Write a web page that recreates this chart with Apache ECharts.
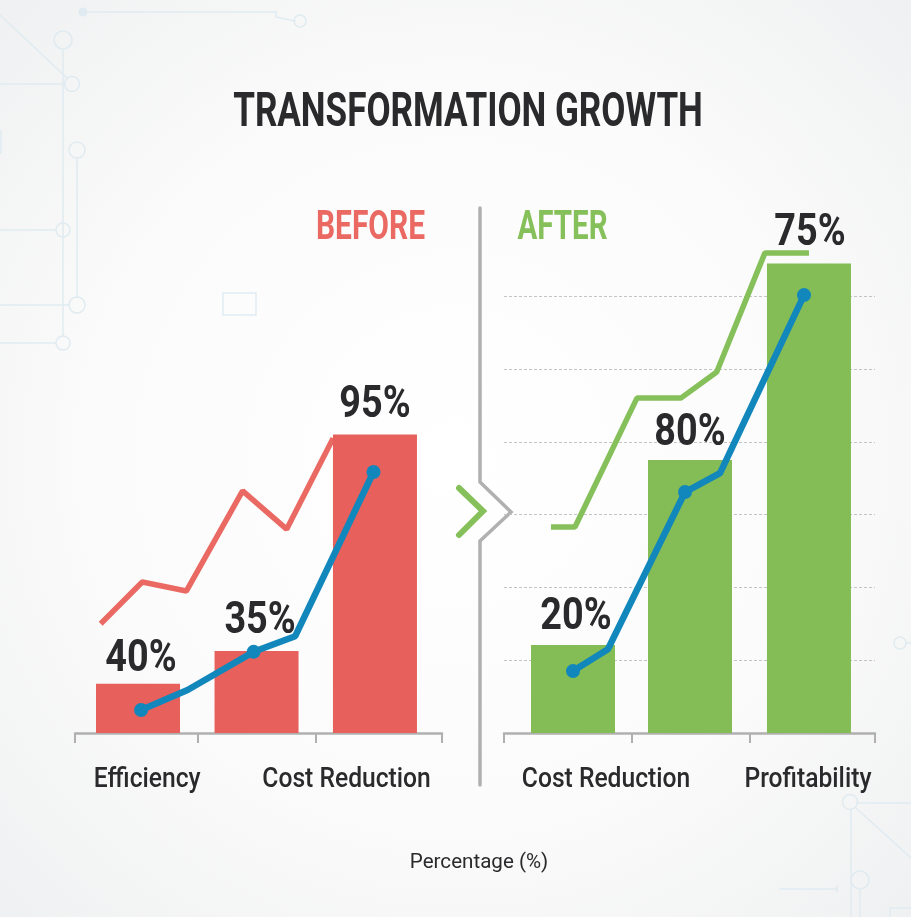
<!DOCTYPE html>
<html>
<head>
<meta charset="utf-8">
<style>
  html, body { margin: 0; padding: 0; background: #fff; }
  #chart { width: 911px; height: 917px; }
</style>
<script src="https://cdn.jsdelivr.net/npm/echarts@6/dist/echarts.min.js"></script>
</head>
<body>
<div id="chart"></div>
<script>
// x positions are in axis units: 0..3 across each panel
const beforeTicks = [0, 1, 1.97, 3];
const afterTicks = [0, 1.035, 1.99, 3];
const beforeNames = ['Efficiency', 'Cost Reduction'];
const beforeNamePos = [0.59, 2.22];
const afterNames = ['Cost Reduction', 'Profitability'];
const afterNamePos = [0.825, 2.458];

const beforeBarX = [0.515, 1.484, 2.452];
const beforeBars = [13.5, 22.5, 82];
const beforeLabels = ['40%', '35%', '95%'];
const afterBarX = [0.558, 1.504, 2.466];
const afterBars = [24.2, 75, 129];
const afterLabels = ['20%', '80%', '75%'];

const beforeTrendX = [0.21, 0.55, 0.91, 1.37, 1.73, 2.11];
const beforeTrend = [30, 41.5, 39, 66.5, 56, 81];
const beforeBlueX = [0.54, 0.92, 1.46, 1.8, 2.44];
const beforeBlue = [6.3, 11.8, 22.3, 26.6, 71.7];

const afterTrendX = [0.38, 0.574, 1.075, 1.43, 1.72, 2.11, 2.466];
const afterTrend = [56.6, 56.6, 92, 92, 99.2, 131.9, 131.9];
const afterBlueX = [0.558, 0.84, 1.464, 1.747, 2.426];
const afterBlue = [17, 23, 66.2, 71.4, 120.3];
const blueDots = [0, 2, 4];

const RED = '#e8605c';
const RED_LINE = '#ea6a63';
const GREEN = '#84bc56';
const GREEN_LINE = '#86c05a';
const BLUE = '#1287bb';
const FONT = 'Roboto, sans-serif';
const DARK = '#2a2a2c';
const CIRCUIT = '#e0ebf1';

const zip = (xs, ys) => xs.map((x, i) => [x, ys[i]]);

// no condensed font is installed, so text gets squeezed horizontally
function squeezedText(text, x, y, scaleX, fontSize, fontWeight, fill) {
  return {
    type: 'text', x, y, scaleX, silent: true, z: 10,
    style: {
      text, fontFamily: FONT, fontSize, fontWeight, fill,
      align: 'center', verticalAlign: 'middle',
    },
  };
}

function xAxis(gridIndex, ticks) {
  return {
    type: 'value', gridIndex, min: 0, max: 3, interval: 1,
    splitLine: { show: false },
    axisLine: { show: true, onZero: false, lineStyle: { color: '#b0b0b0', width: 2.5 } },
    axisTick: { show: true, customValues: ticks, length: 10, lineStyle: { color: '#b0b0b0', width: 2 } },
    axisLabel: { show: false },
  };
}

function yAxis(gridIndex, showLines) {
  return {
    type: 'value', gridIndex, min: 0, max: 140, interval: 20,
    axisLine: { show: false }, axisTick: { show: false }, axisLabel: { show: false },
    splitLine: {
      show: showLines, showMinLine: false, showMaxLine: false,
      lineStyle: { color: '#c4c4c4', type: [3, 2], width: 1 },
    },
  };
}

function barSeries(i, xs, ys, color) {
  return {
    type: 'bar', xAxisIndex: i, yAxisIndex: i, z: 3,
    data: zip(xs, ys), barWidth: 84,
    itemStyle: { color },
  };
}

function lineSeries(i, xs, ys, color, width, z, dots) {
  return {
    type: 'line', xAxisIndex: i, yAxisIndex: i, z,
    data: zip(xs, ys), clip: false,
    lineStyle: { color, width },
    itemStyle: { color },
    symbol: 'circle', showAllSymbol: true,
    symbolSize: (v, p) => (dots.includes(p.dataIndex) ? 14 : 0),
  };
}

// value labels above the bars, nudged by [dx, lift] per bar
function valueLabels(i, xs, ys, labels, nudges) {
  return {
    type: 'custom', xAxisIndex: i, yAxisIndex: i, z: 6,
    data: zip(xs, ys),
    renderItem: (params, api) => {
      const p = api.coord([api.value(0), api.value(1)]);
      const [dx, lift] = nudges[params.dataIndex];
      return squeezedText(labels[params.dataIndex], p[0] + dx, p[1] - lift, 0.84, 45, 'bold', DARK);
    },
  };
}

// category names under the axis, they do not sit under the bars
function axisNames(i, pos, names) {
  return {
    type: 'custom', xAxisIndex: i, yAxisIndex: i, z: 6,
    data: pos.map((x) => [x, 0]),
    renderItem: (params, api) => {
      const p = api.coord([api.value(0), 0]);
      return squeezedText(names[params.dataIndex], p[0], p[1] + 47, 0.88, 28, 500, DARK);
    },
  };
}

const line = (points, stroke, lineWidth) => ({
  type: 'polyline', silent: true, z: -1,
  shape: { points },
  style: { stroke, lineWidth, fill: null, lineCap: 'round', lineJoin: 'miter' },
});
const ring = (cx, cy, r) => ({
  type: 'circle', silent: true, z: -1,
  shape: { cx, cy, r },
  style: { stroke: CIRCUIT, lineWidth: 1.5, fill: null },
});
const box = (x, y, width, height) => ({
  type: 'rect', silent: true, z: -1,
  shape: { x, y, width, height },
  style: { stroke: CIRCUIT, lineWidth: 1.5, fill: null },
});

const decor = [
  line([[0, 15], [67, 78]], CIRCUIT, 1.5),
  line([[63, 50], [63, 336]], CIRCUIT, 1.5),
  line([[0, 84], [65, 84]], CIRCUIT, 1.5),
  line([[77, 158], [77, 297]], CIRCUIT, 1.5),
  line([[0, 230], [56, 230]], CIRCUIT, 1.5),
  line([[0, 305], [69, 305]], CIRCUIT, 1.5),
  line([[0, 343], [56, 343]], CIRCUIT, 1.5),
  line([[88, 12], [276, 12], [276, 17], [295, 21]], CIRCUIT, 1.5),
  ring(63, 40, 9), ring(72, 84, 7.5), ring(77, 150, 8), ring(63, 230, 7),
  ring(77, 305, 8), ring(63, 343, 7), ring(300, 21, 6),
  { type: 'circle', silent: true, z: -1, shape: { cx: 83, cy: 12, r: 4.5 }, style: { fill: CIRCUIT } },
  box(223, 293, 33, 22), box(-3, 131, 4, 22),
  ring(900, 643, 6), line([[906, 643], [911, 643]], CIRCUIT, 1.5),
  ring(850, 802, 7.5), line([[857, 803], [911, 803]], CIRCUIT, 1.5),
  line([[851, 810], [851, 917]], CIRCUIT, 1.5),
  line([[856, 808], [911, 858]], CIRCUIT, 1.5),
  ring(860, 880, 9), line([[860, 889], [860, 917]], CIRCUIT, 1.5),
  line([[780, 889], [837, 889]], CIRCUIT, 1.5), line([[837, 886], [837, 892]], CIRCUIT, 1.5),
  box(890, 908, 30, 20),
  // divider with the chevron
  line([[480, 208], [480, 482], [511, 512], [480, 541], [480, 785]], '#b0b0b0', 3.5),
  line([[459, 488], [483, 511], [459, 535]], GREEN_LINE, 6),
  // headings
  squeezedText('TRANSFORMATION GROWTH', 468, 114, 0.73, 48, 'bold', DARK),
  squeezedText('BEFORE', 370.5, 229, 0.73, 41, 'bold', RED_LINE),
  squeezedText('AFTER', 562.5, 229, 0.72, 41, 'bold', GREEN_LINE),
  squeezedText('Percentage (%)', 479, 863, 0.98, 21, 'normal', DARK),
];

const chart = echarts.init(document.getElementById('chart'));
chart.setOption({
  animation: false,
  backgroundColor: {
    type: 'radial', x: 0.5, y: 0.5, r: 0.72,
    colorStops: [
      { offset: 0, color: '#ffffff' },
      { offset: 0.55, color: '#fbfbfb' },
      { offset: 1, color: '#eff0f1' },
    ],
  },
  grid: [
    { left: 75, width: 367, top: 223.4, height: 509.6 },
    { left: 504, width: 371, top: 223.4, height: 509.6 },
  ],
  xAxis: [xAxis(0, beforeTicks), xAxis(1, afterTicks)],
  yAxis: [yAxis(0, false), yAxis(1, true)],
  series: [
    lineSeries(0, beforeTrendX, beforeTrend, RED_LINE, 5.5, 2, []),
    barSeries(0, beforeBarX, beforeBars, RED),
    lineSeries(0, beforeBlueX, beforeBlue, BLUE, 6.5, 4, blueDots),
    valueLabels(0, beforeBarX, beforeBars, beforeLabels, [[3, 24], [3.5, 29], [0, 29]]),
    axisNames(0, beforeNamePos, beforeNames),
    lineSeries(1, afterTrendX, afterTrend, GREEN_LINE, 5.5, 2, []),
    barSeries(1, afterBarX, afterBars, GREEN),
    lineSeries(1, afterBlueX, afterBlue, BLUE, 6.5, 4, blueDots),
    valueLabels(1, afterBarX, afterBars, afterLabels, [[3, 27], [0, 26], [1, 30]]),
    axisNames(1, afterNamePos, afterNames),
  ],
  graphic: decor,
});
</script>
</body>
</html>
